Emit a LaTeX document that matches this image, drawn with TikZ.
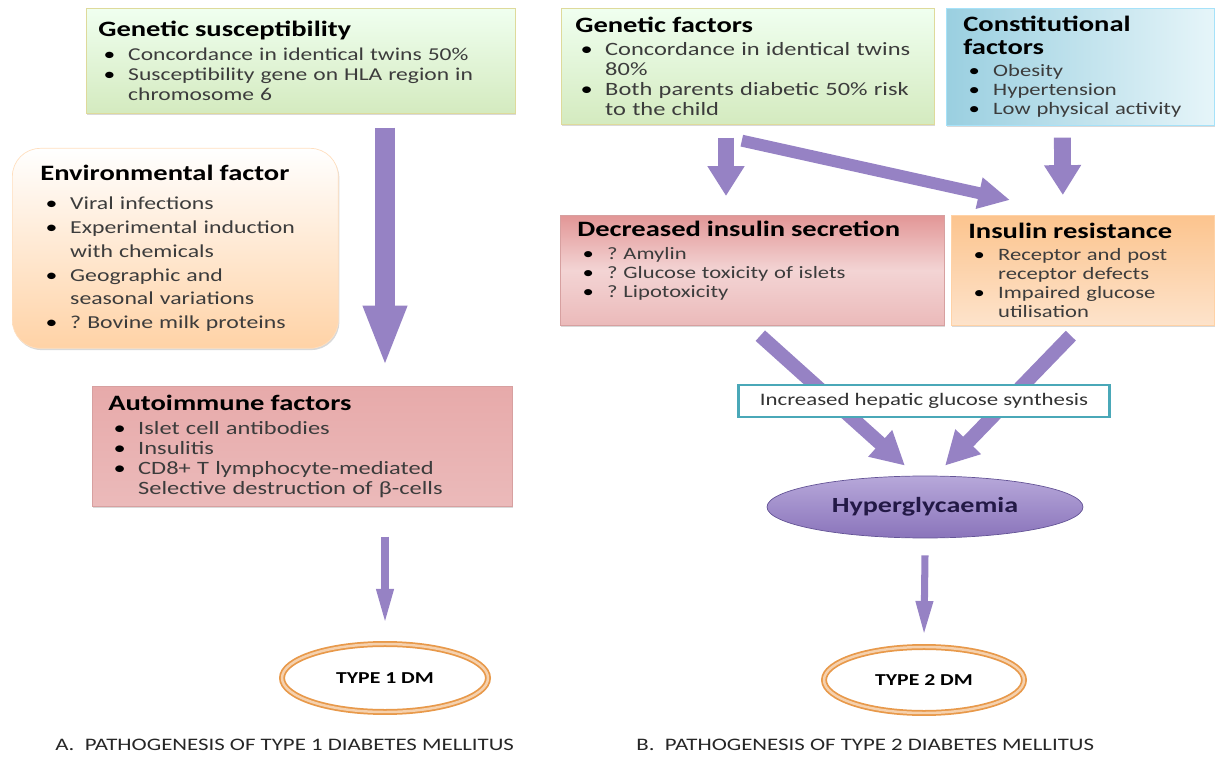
\documentclass[tikz,border=0pt]{standalone}
\usepackage{fontspec}
\setmainfont{Carlito}[FakeStretch=1.3]
\usetikzlibrary{arrows.meta,calc,shadows,shapes.geometric}

\definecolor{arrowc}{HTML}{9682C4}
\definecolor{bodyc}{HTML}{3C3C3C}
\definecolor{hepc}{HTML}{4AA8B8}
\definecolor{ringc}{HTML}{E8994A}

\hyphenpenalty=10000
\frenchspacing
\newcommand{\hd}[1]{{\fontsize{12.5}{13}\selectfont\bfseries\color{black}#1\par}\vspace{2pt}}
\newcommand{\itm}[1]{\par\hangindent=17pt\hangafter=1\makebox[17pt][l]{\hspace{3pt}\textcolor{black}{\textbullet}}#1\par}

\begin{document}
\begin{tikzpicture}[x=0.02cm, y=-0.02cm,
    box/.style={rectangle, anchor=north west, align=left, text=bodyc,
      font=\fontsize{10.7}{11.4}\selectfont,
      drop shadow={shadow xshift=0.6pt, shadow yshift=-1pt, opacity=0.3}},
    green box/.style={box, top color=green!6!white, bottom color=green!35!olive!25, draw=olive!30},
    pink box/.style={box, top color={rgb,255:red,231;green,170;blue,170}, middle color={rgb,255:red,246;green,222;blue,222},
      bottom color={rgb,255:red,235;green,186;blue,186}, draw={rgb,255:red,215;green,160;blue,160}},
    orange box/.style={box, top color={rgb,255:red,252;green,196;blue,142}, bottom color={rgb,255:red,253;green,227;blue,203},
      draw=orange!35},
    blue box/.style={box, left color={rgb,255:red,154;green,207;blue,224}, right color={rgb,255:red,230;green,245;blue,249},
      draw=cyan!35},
    ring/.style={ellipse, draw=ringc, double=ringc!45, double distance=1.4pt, line width=1pt,
      fill=white, font=\fontsize{9.5}{12}\selectfont\bfseries},
    blk/.style n args={3}{draw=arrowc, line width=#1, -{Triangle[width=#2, length=#3]}},
    caption/.style={anchor=west, inner sep=0pt, font=\fontsize{10}{12}\selectfont, text=black!85}]
\useasboundingbox (0,0) rectangle (1218,760);

% type 1
\node[green box, minimum width=8.58cm, minimum height=2.1cm, inner xsep=0.24cm, text width=8.1cm,
  font=\fontsize{10.3}{11.4}\selectfont]
  (gs) at (86,8) {\hd{Genetic susceptibility}\itm{Concordance in identical twins 50\%}%
  \itm{Susceptibility gene on HLA region in\newline chromosome 6}};
\node[box, rounded corners=0.56cm, top color=white, bottom color=orange!35!white, draw=orange!25,
  minimum width=6.52cm, minimum height=4cm, inner xsep=0.56cm, text width=5.4cm,
  font=\fontsize{10.4}{13.6}\selectfont]
  (env) at (12,148) {\hd{Environmental factor}\vspace{1pt}\itm{Viral infections}%
  \itm{Experimental induction\newline with chemicals}\itm{Geographic and\newline seasonal variations}%
  \itm{? Bovine milk proteins}};
\node[pink box, minimum width=8.4cm, minimum height=2.4cm, inner xsep=0.32cm, text width=7.76cm]
  (auto) at (92,386) {\hd{Autoimmune factors}\itm{Islet cell antibodies}\itm{Insulitis}%
  \itm{CD8+ T lymphocyte-mediated\newline Selective destruction of β-cells}};
\node[ring, minimum width=4.12cm, minimum height=1.36cm] (t1) at (385,678) {TYPE 1 DM};

\draw[blk={11.9pt}{22.7pt}{35pt}] ($(gs.south -| t1)+(0,14)$) -- ($(auto.north -| t1)+(0,-19)$);
\draw[blk={4pt}{9pt}{20pt}] ($(auto.south -| t1)+(0,30)$) -- ($(t1.north)+(0,-19)$);

% type 2
\node[green box, minimum width=7.46cm, minimum height=2.32cm, inner xsep=0.28cm, text width=6.9cm]
  (genf) at (561,8) {\hd{Genetic factors}\itm{Concordance in identical twins\newline 80\%}%
  \itm{Both parents diabetic 50\% risk\newline to the child}};
\node[blue box, minimum width=5.36cm, minimum height=2.34cm, inner xsep=0.34cm, text width=4.68cm,
  font=\fontsize{9.9}{10.8}\selectfont]
  (cons) at (946,8) {\hd{Constitutional\\factors}\itm{Obesity}\itm{Hypertension}\itm{Low physical activity}};
\node[pink box, top color={rgb,255:red,226;green,150;blue,150}, middle color={rgb,255:red,243;green,212;blue,212},
  minimum width=7.68cm, minimum height=2.2cm, inner xsep=0.34cm,
  text width=7cm, font=\fontsize{9.9}{10.8}\selectfont]
  (dec) at (560,215) {\hd{Decreased insulin secretion}\itm{? Amylin}\itm{? Glucose toxicity of islets}%
  \itm{? Lipotoxicity}\vspace{11pt}};
\node[orange box, minimum width=5.26cm, minimum height=2.2cm, inner xsep=0.34cm, text width=4.58cm,
  font=\fontsize{9.9}{10.8}\selectfont]
  (res) at (951,215) {\hd{Insulin resistance}\itm{Receptor and post\newline receptor defects}%
  \itm{Impaired glucose\newline utilisation}};
\node[ellipse, top color={rgb,255:red,183;green,168;blue,218}, bottom color={rgb,255:red,138;green,116;blue,187},
  draw={rgb,255:red,100;green,84;blue,150}, minimum width=6.32cm, minimum height=1.24cm,
  font=\fontsize{12.3}{14}\selectfont\bfseries, text={rgb,255:red,35;green,25;blue,70}]
  (hyp) at (925,507) {Hyperglycaemia};
\node[ring, minimum width=4cm, minimum height=1.32cm] (t2) at (924,680) {TYPE 2 DM};

\draw[blk={9.6pt}{20pt}{17pt}] ($(genf.south west)+(165,13)$) -- ($(dec.north west)+(166,-19)$);
\draw[blk={6.8pt}{17pt}{18pt}] ($(genf.south)+(-6,16)$) -- ($(res.north west)+(59,-15)$);
\draw[blk={9.6pt}{20pt}{17pt}] ($(cons.south)+(-18,12)$) -- ($(res.north)+(-20,-20)$);
\draw[blk={8pt}{19pt}{19pt}] ($(dec.south)+(8,10)$) -- ($(hyp.north)+(-20,-10)$);
\draw[blk={8pt}{19pt}{19pt}] ($(res.south)+(-12,10)$) -- ($(hyp.north)+(20,-10)$);
\draw[blk={4pt}{9pt}{20pt}] ($(hyp.south)+(0,17)$) -- ($(t2.north)+(0,-10)$);

\node[draw=hepc, line width=1.7pt, fill=white, minimum width=7.44cm, minimum height=0.64cm,
  font=\fontsize{10}{11}\selectfont, text=black!80]
  (hep) at (924,401) {Increased hepatic glucose synthesis};

\node[caption] (capa) at (55,745) {A.\ \ PATHOGENESIS OF TYPE 1 DIABETES MELLITUS};
\node[caption] (capb) at (636,745) {B.\ \ PATHOGENESIS OF TYPE 2 DIABETES MELLITUS};
\end{tikzpicture}
\end{document}
